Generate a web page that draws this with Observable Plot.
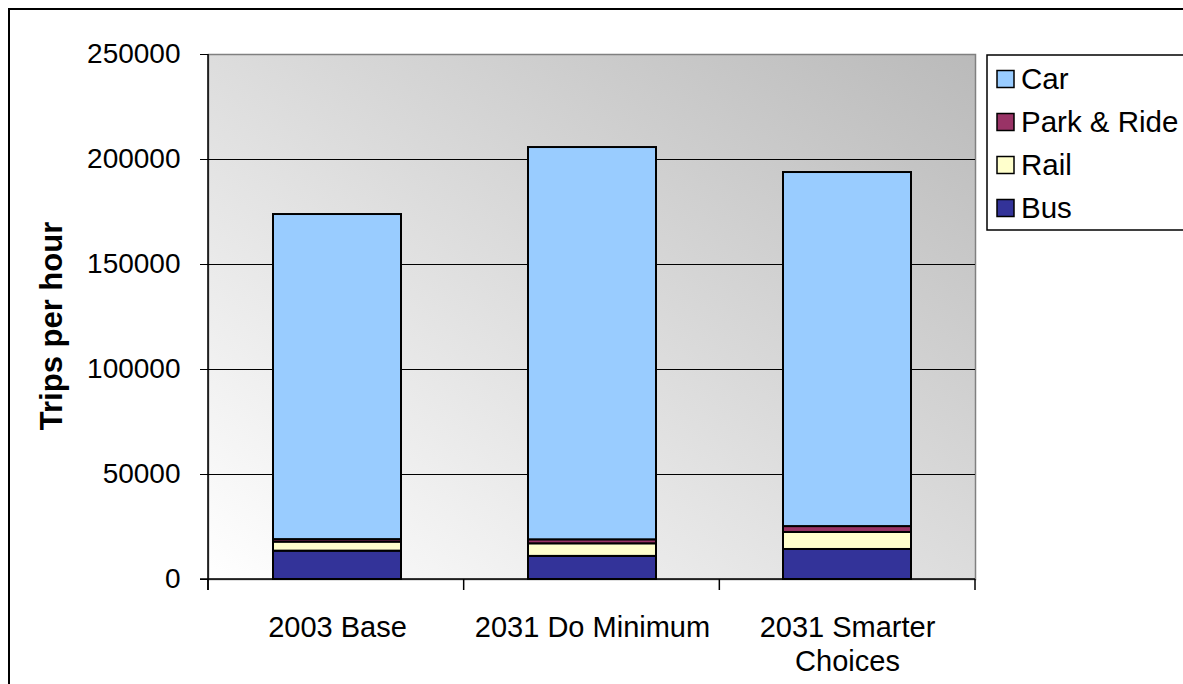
<!DOCTYPE html>
<html>
<head>
<meta charset="utf-8">
<script src="https://cdn.jsdelivr.net/npm/d3@7"></script>
<script src="https://cdn.jsdelivr.net/npm/@observablehq/plot@0.6"></script>
<style>
  html, body { margin: 0; padding: 0; background: #fff; }
  svg { display: block; }
</style>
</head>
<body>
<div id="chart"></div>
<script>
const categories = ["2003 Base", "2031 Do Minimum", "2031 Smarter\nChoices"];
const modes = ["Bus", "Rail", "Park & Ride", "Car"];           // stacking order, bottom to top
const legendOrder = ["Car", "Park & Ride", "Rail", "Bus"];
const modeColors = ["#333399", "#FFFFCC", "#993366", "#99CCFF"];
const bus = [13500, 11000, 14300];
const rail = [4300, 6000, 8100];
const parkRide = [1200, 1900, 2800];
const car = [154800, 186800, 168600];
const yTicks = [0, 50000, 100000, 150000, 200000, 250000];
const yLabel = "Trips per hour";

const seriesValues = {"Bus": bus, "Rail": rail, "Park & Ride": parkRide, "Car": car};
const data = [];
modes.forEach(m => categories.forEach((c, i) => data.push({category: c, mode: m, value: seriesValues[m][i]})));

const W = 1183, H = 684;
const FONT = "Liberation Sans, Arial, sans-serif";

const chart = Plot.plot({
  width: W,
  height: H,
  marginLeft: 208,
  marginRight: 208,
  marginTop: 54,
  marginBottom: 105,
  style: {fontFamily: FONT, fontSize: "28px", background: "white", overflow: "visible"},
  x: {domain: categories, paddingInner: 0.5, paddingOuter: 0.25, axis: null},
  y: {domain: [0, 250000], axis: null},
  color: {domain: modes, range: modeColors},
  marks: [
    Plot.frame({fill: "url(#plotbg)", stroke: "#808080", strokeWidth: 1.5}),
    Plot.ruleY(yTicks.filter(t => t > 0 && t < 250000), {stroke: "black", strokeWidth: 1}),
    Plot.barY(data, Plot.stackY({order: modes}, {x: "category", y: "value", fill: "mode", stroke: "black", strokeWidth: 2})),
    Plot.axisY({ticks: yTicks, label: null, tickSize: 8, tickPadding: 20, fontSize: 28, tickFormat: d => String(d), stroke: "black"}),
    Plot.text(categories, {x: d => d, frameAnchor: "bottom", dy: 33, lineAnchor: "top", lineHeight: 1.18, fontSize: 29, fill: "black", text: d => d}),
    Plot.text([yLabel], {frameAnchor: "left", dx: -156, dy: 9, rotate: -90, textAnchor: "middle", fontSize: 31, fontWeight: "bold", fill: "black"}),
    (index, scales, values, dimensions) => {
      const {width, height, marginLeft, marginRight, marginTop, marginBottom} = dimensions;
      const x0 = marginLeft, x1 = width - marginRight, y0 = height - marginBottom, yTop = marginTop;
      const g = d3.create("svg:g");
      const defs = g.append("defs");
      const grad = defs.append("linearGradient").attr("id", "plotbg")
        .attr("x1", 0).attr("y1", 1).attr("x2", 1).attr("y2", 0);
      grad.append("stop").attr("offset", "0%").attr("stop-color", "#ffffff");
      grad.append("stop").attr("offset", "100%").attr("stop-color", "#bababa");
      // axes lines
      g.append("line").attr("x1", x0).attr("x2", x0).attr("y1", yTop).attr("y2", y0 + 11).attr("stroke", "black").attr("stroke-width", 1.5);
      g.append("line").attr("x1", x0 - 8).attr("x2", x1).attr("y1", y0).attr("y2", y0).attr("stroke", "black").attr("stroke-width", 1.5);
      // category boundary ticks
      const step = (x1 - x0) / categories.length;
      for (let i = 0; i <= categories.length; i++) {
        const xx = x0 + i * step;
        g.append("line").attr("x1", xx).attr("x2", xx).attr("y1", y0).attr("y2", y0 + 11).attr("stroke", "black").attr("stroke-width", 1.5);
      }
      // legend
      const lg = g.append("g").attr("text-anchor", "start");
      lg.append("rect").attr("x", 987).attr("y", 55).attr("width", 260).attr("height", 175)
        .attr("fill", "white").attr("stroke", "black").attr("stroke-width", 1.5);
      legendOrder.forEach((m, i) => {
        const cy = 79 + i * 43;
        lg.append("rect").attr("x", 997).attr("y", cy - 8.5).attr("width", 17).attr("height", 17)
          .attr("fill", scales.color(m)).attr("stroke", "black").attr("stroke-width", 1.5);
        lg.append("text").attr("x", 1021).attr("y", cy).attr("dy", "0.35em").attr("text-anchor", "start")
          .attr("font-size", 29.5).attr("font-family", FONT).attr("fill", "black").text(m);
      });
      // outer border
      g.append("rect").attr("x", 9).attr("y", 9).attr("width", 1240).attr("height", 740)
        .attr("fill", "none").attr("stroke", "black").attr("stroke-width", 2);
      return g.node();
    }
  ]
});
document.getElementById("chart").appendChild(chart);
</script>
</body>
</html>
